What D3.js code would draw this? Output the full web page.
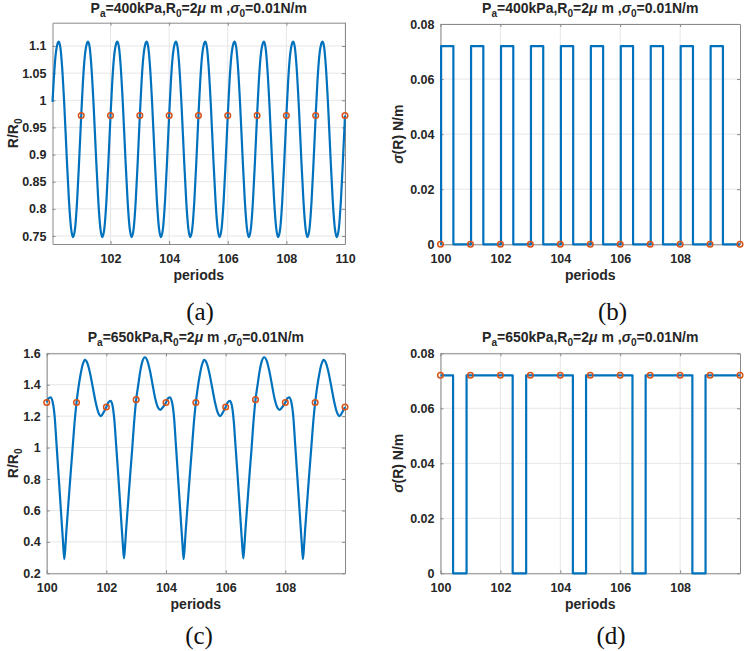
<!DOCTYPE html>
<html>
<head>
<meta charset="utf-8">
<script src="https://cdn.jsdelivr.net/npm/d3@7"></script>
<style>
    body { margin: 0; background: #fff; }
    svg { display: block; }
    text { font-family: 'Liberation Sans', Arial, Helvetica, sans-serif; white-space: pre; }
</style>
</head>
<body>
<svg id="chart" width="744" height="651"></svg>
<script>
// ---- data ---------------------------------------------------------------

// (a) R/R0, Pa = 400 kPa
var radiusA = [
    [100.02,0.997],[100.06,1.035],[100.12,1.080],[100.18,1.102],[100.235,1.108],[100.29,1.097],[100.35,1.060],[100.42,0.994],[100.50,0.902],[100.58,0.817],[100.65,0.766],[100.72,0.748],[100.79,0.764],[100.86,0.815],[100.93,0.890],
    [101.00,0.972],[101.06,1.035],[101.12,1.080],[101.18,1.102],[101.235,1.108],[101.29,1.097],[101.35,1.060],[101.42,0.994],[101.50,0.902],[101.58,0.817],[101.65,0.766],[101.72,0.748],[101.79,0.764],[101.86,0.815],[101.93,0.890],
    [102.00,0.972],[102.06,1.035],[102.12,1.080],[102.18,1.102],[102.235,1.108],[102.29,1.097],[102.35,1.060],[102.42,0.994],[102.50,0.902],[102.58,0.817],[102.65,0.766],[102.72,0.748],[102.79,0.764],[102.86,0.815],[102.93,0.890],
    [103.00,0.972],[103.06,1.035],[103.12,1.080],[103.18,1.102],[103.235,1.108],[103.29,1.097],[103.35,1.060],[103.42,0.994],[103.50,0.902],[103.58,0.817],[103.65,0.766],[103.72,0.748],[103.79,0.764],[103.86,0.815],[103.93,0.890],
    [104.00,0.972],[104.06,1.035],[104.12,1.080],[104.18,1.102],[104.235,1.108],[104.29,1.097],[104.35,1.060],[104.42,0.994],[104.50,0.902],[104.58,0.817],[104.65,0.766],[104.72,0.748],[104.79,0.764],[104.86,0.815],[104.93,0.890],
    [105.00,0.972],[105.06,1.035],[105.12,1.080],[105.18,1.102],[105.235,1.108],[105.29,1.097],[105.35,1.060],[105.42,0.994],[105.50,0.902],[105.58,0.817],[105.65,0.766],[105.72,0.748],[105.79,0.764],[105.86,0.815],[105.93,0.890],
    [106.00,0.972],[106.06,1.035],[106.12,1.080],[106.18,1.102],[106.235,1.108],[106.29,1.097],[106.35,1.060],[106.42,0.994],[106.50,0.902],[106.58,0.817],[106.65,0.766],[106.72,0.748],[106.79,0.764],[106.86,0.815],[106.93,0.890],
    [107.00,0.972],[107.06,1.035],[107.12,1.080],[107.18,1.102],[107.235,1.108],[107.29,1.097],[107.35,1.060],[107.42,0.994],[107.50,0.902],[107.58,0.817],[107.65,0.766],[107.72,0.748],[107.79,0.764],[107.86,0.815],[107.93,0.890],
    [108.00,0.972],[108.06,1.035],[108.12,1.080],[108.18,1.102],[108.235,1.108],[108.29,1.097],[108.35,1.060],[108.42,0.994],[108.50,0.902],[108.58,0.817],[108.65,0.766],[108.72,0.748],[108.79,0.764],[108.86,0.815],[108.93,0.890],
    [109.00,0.972],[109.06,1.035],[109.12,1.080],[109.18,1.102],[109.235,1.108],[109.29,1.097],[109.35,1.060],[109.42,0.994],[109.50,0.902],[109.58,0.817],[109.65,0.766],[109.72,0.748],[109.79,0.764],[109.86,0.815],[109.93,0.890],
    [110.00,0.972]
];
var markPeriodsA = [101, 102, 103, 104, 105, 106, 107, 108, 109, 110];
var markRadiusA  = [0.972, 0.972, 0.972, 0.972, 0.972, 0.972, 0.972, 0.972, 0.972, 0.972];

// (b) sigma(R), Pa = 400 kPa : switches up / down
var riseB  = [100.02, 101.02, 102.02, 103.02, 104.02, 105.02, 106.02, 107.02, 108.02, 109.02];
var fallB  = [100.43, 101.43, 102.43, 103.43, 104.43, 105.43, 106.43, 107.43, 108.43, 109.43];
var sigmaHighB = 0.072;
var markPeriodsB = [100, 101, 102, 103, 104, 105, 106, 107, 108, 109, 110];
var markSigmaB   = [0, 0, 0, 0, 0, 0, 0, 0, 0, 0, 0];

// (c) R/R0, Pa = 650 kPa
var radiusC = [
    [100.00,1.287],[100.06,1.312],[100.13,1.320],[100.20,1.290],[100.27,1.190],[100.33,1.020],[100.40,0.820],[100.48,0.590],[100.55,0.390],[100.59,0.290],[100.63,0.380],[100.66,0.470],[100.73,0.650],[100.80,0.830],[100.87,1.000],[100.93,1.150],
    [101.00,1.287],[101.07,1.390],[101.14,1.470],[101.21,1.530],[101.28,1.558],[101.36,1.539],[101.45,1.477],[101.55,1.379],[101.64,1.290],[101.73,1.224],[101.82,1.200],[101.91,1.225],
    [102.00,1.258],[102.07,1.288],[102.14,1.297],[102.21,1.265],[102.27,1.170],[102.33,1.010],[102.40,0.820],[102.48,0.590],[102.55,0.390],[102.59,0.295],[102.63,0.380],[102.66,0.470],[102.73,0.650],[102.80,0.830],[102.87,1.000],[102.93,1.160],
    [103.00,1.305],[103.07,1.400],[103.14,1.490],[103.21,1.550],[103.29,1.575],[103.37,1.555],[103.46,1.490],[103.55,1.400],[103.64,1.310],[103.73,1.255],[103.81,1.240],[103.90,1.258],
    [104.00,1.287],[104.06,1.312],[104.13,1.320],[104.20,1.290],[104.27,1.190],[104.33,1.020],[104.40,0.820],[104.48,0.590],[104.55,0.390],[104.59,0.290],[104.63,0.380],[104.66,0.470],[104.73,0.650],[104.80,0.830],[104.87,1.000],[104.93,1.150],
    [105.00,1.287],[105.07,1.390],[105.14,1.470],[105.21,1.530],[105.28,1.558],[105.36,1.539],[105.45,1.477],[105.55,1.379],[105.64,1.290],[105.73,1.224],[105.82,1.200],[105.91,1.225],
    [106.00,1.258],[106.07,1.288],[106.14,1.297],[106.21,1.265],[106.27,1.170],[106.33,1.010],[106.40,0.820],[106.48,0.590],[106.55,0.390],[106.59,0.295],[106.63,0.380],[106.66,0.470],[106.73,0.650],[106.80,0.830],[106.87,1.000],[106.93,1.160],
    [107.00,1.305],[107.07,1.400],[107.14,1.490],[107.21,1.550],[107.29,1.575],[107.37,1.555],[107.46,1.490],[107.55,1.400],[107.64,1.310],[107.73,1.255],[107.81,1.240],[107.90,1.258],
    [108.00,1.287],[108.06,1.312],[108.13,1.320],[108.20,1.290],[108.27,1.190],[108.33,1.020],[108.40,0.820],[108.48,0.590],[108.55,0.390],[108.59,0.290],[108.63,0.380],[108.66,0.470],[108.73,0.650],[108.80,0.830],[108.87,1.000],[108.93,1.150],
    [109.00,1.287],[109.07,1.390],[109.14,1.470],[109.21,1.530],[109.28,1.558],[109.36,1.539],[109.45,1.477],[109.55,1.379],[109.64,1.290],[109.73,1.224],[109.82,1.200],[109.91,1.225],
    [110.00,1.258]
];
var markPeriodsC = [100, 101, 102, 103, 104, 105, 106, 107, 108, 109, 110];
var markRadiusC  = [1.287, 1.287, 1.258, 1.305, 1.287, 1.287, 1.258, 1.305, 1.287, 1.287, 1.258];

// (d) sigma(R), Pa = 650 kPa : short drops to zero
var dropD  = [100.42, 102.41, 104.42, 106.41, 108.41];
var riseD  = [100.87, 102.86, 104.86, 106.85, 108.85];
var sigmaHighD = 0.072;
var markPeriodsD = [100, 101, 102, 103, 104, 105, 106, 107, 108, 109, 110];
var markSigmaD   = [0.072, 0.072, 0.072, 0.072, 0.072, 0.072, 0.072, 0.072, 0.072, 0.072, 0.072];

// ticks
var xTicksA = [102, 104, 106, 108, 110];
var yTicksA = [0.75, 0.8, 0.85, 0.9, 0.95, 1, 1.05, 1.1];
var xTicksB = [100, 102, 104, 106, 108];
var yTicksB = [0, 0.02, 0.04, 0.06, 0.08];
var yTicksC = [0.2, 0.4, 0.6, 0.8, 1, 1.2, 1.4, 1.6];

// texts: [string, 'sub' | 'it' | undefined]
var title400 = [['P'],['a','sub'],['=400kPa,R'],['0','sub'],['=2'],['\u03bc','it'],[' m ,'],['\u03c3','it'],['0','sub'],['=0.01N/m']];
var title650 = [['P'],['a','sub'],['=650kPa,R'],['0','sub'],['=2'],['\u03bc','it'],[' m ,'],['\u03c3','it'],['0','sub'],['=0.01N/m']];
var yLabelR = [['R/R'],['0','sub']];
var yLabelS = [['\u03c3','it'],['(R) N/m']];

// ---- drawing --------------------------------------------------------------
var BLUE = '#0072BD', ORANGE = '#D95319', FRAME = '#8a8a8a', GRID = '#e6e6e6', INK = '#262626';
var svg = d3.select('#chart');

// step series from the switching instants
function stepUp(rise, fall, high) {
    var pts = [[100, 0]];
    rise.forEach(function(r, i) {
        pts.push([r, 0], [r, high], [fall[i], high], [fall[i], 0]);
    });
    pts.push([110, 0]);
    return pts;
}
function stepDown(drop, rise, high) {
    var pts = [[100, high]];
    drop.forEach(function(d, i) {
        pts.push([d, high], [d, 0], [rise[i], 0], [rise[i], high]);
    });
    pts.push([110, high]);
    return pts;
}

function zip(a, b) { return a.map(function(v, i) { return [v, b[i]]; }); }

// text with subscripts / italic greek
function richText(sel, parts, size) {
    var shifted = false;
    parts.forEach(function(pt) {
        var sub = pt[1] === 'sub';
        var span = sel.append('tspan').text(pt[0]);
        if (sub && !shifted) span.attr('dy', size * 0.32);
        if (!sub && shifted) span.attr('dy', -size * 0.32);
        if (sub) span.attr('font-size', size * 0.72);
        if (pt[1] === 'it') span.attr('font-style', 'italic');
        shifted = sub;
    });
}

var panels = [
    { left: 52.5, right: 345, top: 22.7, bottom: 244, xDomain: [100.02, 110], yDomain: [0.7353, 1.1429],
      xTicks: xTicksA, yTicks: yTicksA, line: radiusA, smooth: true, marks: zip(markPeriodsA, markRadiusA),
      title: title400, titleY: 13, yLabel: yLabelR, yLabelX: 18, letter: '(a)', letterX: 200, letterY: 320 },
    { left: 440.5, right: 740, top: 24, bottom: 244.3, xDomain: [100, 110], yDomain: [0, 0.08],
      xTicks: xTicksB, yTicks: yTicksB, line: stepUp(riseB, fallB, sigmaHighB), smooth: false, marks: zip(markPeriodsB, markSigmaB),
      title: title400, titleY: 13, yLabel: yLabelS, yLabelX: 403, letter: '(b)', letterX: 612.5, letterY: 320 },
    { left: 46.7, right: 345, top: 353.3, bottom: 573.3, xDomain: [100, 110], yDomain: [0.2, 1.6],
      xTicks: xTicksB, yTicks: yTicksC, line: radiusC, smooth: true, marks: zip(markPeriodsC, markRadiusC),
      title: title650, titleY: 342, yLabel: yLabelR, yLabelX: 18, letter: '(c)', letterX: 199, letterY: 644 },
    { left: 440.5, right: 740, top: 353.3, bottom: 573.3, xDomain: [100, 110], yDomain: [0, 0.08],
      xTicks: xTicksB, yTicks: yTicksB, line: stepDown(dropD, riseD, sigmaHighD), smooth: false, marks: zip(markPeriodsD, markSigmaD),
      title: title650, titleY: 342, yLabel: yLabelS, yLabelX: 403, letter: '(d)', letterX: 611, letterY: 644 }
];

panels.forEach(function(p) {
    var x = d3.scaleLinear().domain(p.xDomain).range([p.left, p.right]);
    var y = d3.scaleLinear().domain(p.yDomain).range([p.bottom, p.top]);
    var g = svg.append('g').attr('class', 'panel');

    // grid lines
    g.append('g').selectAll('line').data(p.xTicks).enter().append('line')
        .attr('x1', function(d) { return x(d); }).attr('x2', function(d) { return x(d); })
        .attr('y1', p.top).attr('y2', p.bottom)
        .attr('stroke', GRID).attr('stroke-width', 1);
    g.append('g').selectAll('line').data(p.yTicks).enter().append('line')
        .attr('y1', function(d) { return y(d); }).attr('y2', function(d) { return y(d); })
        .attr('x1', p.left).attr('x2', p.right)
        .attr('stroke', GRID).attr('stroke-width', 1);

    // axes (ticks point inward, box on all four sides)
    var axB = g.append('g').attr('transform', 'translate(0,' + p.bottom + ')')
        .call(d3.axisBottom(x).tickValues(p.xTicks).tickSizeInner(-3).tickSizeOuter(0).tickPadding(10).tickFormat(String));
    var axL = g.append('g').attr('transform', 'translate(' + p.left + ',0)')
        .call(d3.axisLeft(y).tickValues(p.yTicks).tickSizeInner(-3).tickSizeOuter(0).tickPadding(6).tickFormat(String));
    var axT = g.append('g').attr('transform', 'translate(0,' + p.top + ')')
        .call(d3.axisTop(x).tickValues(p.xTicks).tickSizeInner(-3).tickSizeOuter(0).tickFormat(''));
    var axR = g.append('g').attr('transform', 'translate(' + p.right + ',0)')
        .call(d3.axisRight(y).tickValues(p.yTicks).tickSizeInner(-3).tickSizeOuter(0).tickFormat(''));
    [axB, axL, axT, axR].forEach(function(ax) {
        ax.select('.domain').attr('stroke', FRAME);
        ax.selectAll('.tick line').attr('stroke', FRAME);
        ax.selectAll('.tick text')
            .attr('fill', INK)
            .style('font-size', '12.5px')
            .style('font-weight', 'bold');
    });

    // series line
    var line = d3.line()
        .x(function(d) { return x(d[0]); })
        .y(function(d) { return y(d[1]); })
        .curve(p.smooth ? d3.curveMonotoneX : d3.curveLinear);
    g.append('path').datum(p.line)
        .attr('d', line)
        .attr('fill', 'none')
        .attr('stroke', BLUE)
        .attr('stroke-width', 2.2)
        .attr('stroke-linejoin', 'round');

    // sample markers
    g.append('g').selectAll('circle').data(p.marks).enter().append('circle')
        .attr('cx', function(d) { return x(d[0]); })
        .attr('cy', function(d) { return y(d[1]); })
        .attr('r', 2.8)
        .attr('fill', 'none')
        .attr('stroke', ORANGE)
        .attr('stroke-width', 1.5);

    // title
    var cx = (p.left + p.right) / 2;
    var t = g.append('text')
        .attr('x', cx).attr('y', p.titleY)
        .attr('text-anchor', 'middle')
        .attr('fill', INK)
        .style('font-size', '14px')
        .style('font-weight', 'bold');
    richText(t, p.title, 14);

    // x label
    g.append('text')
        .attr('x', cx).attr('y', p.bottom + 36)
        .attr('text-anchor', 'middle')
        .attr('fill', INK)
        .style('font-size', '14px')
        .style('font-weight', 'bold')
        .text('periods');

    // y label
    var yl = g.append('text')
        .attr('transform', 'translate(' + p.yLabelX + ',' + ((p.top + p.bottom) / 2) + ') rotate(-90)')
        .attr('text-anchor', 'middle')
        .attr('fill', INK)
        .style('font-size', '14px')
        .style('font-weight', 'bold');
    richText(yl, p.yLabel, 14);

    // sub-figure letter
    g.append('text')
        .attr('x', p.letterX).attr('y', p.letterY)
        .attr('text-anchor', 'middle')
        .attr('fill', '#111')
        .style('font-family', "'Liberation Serif', 'DejaVu Serif', serif")
        .style('font-size', '25px')
        .text(p.letter);
});
</script>
</body>
</html>
